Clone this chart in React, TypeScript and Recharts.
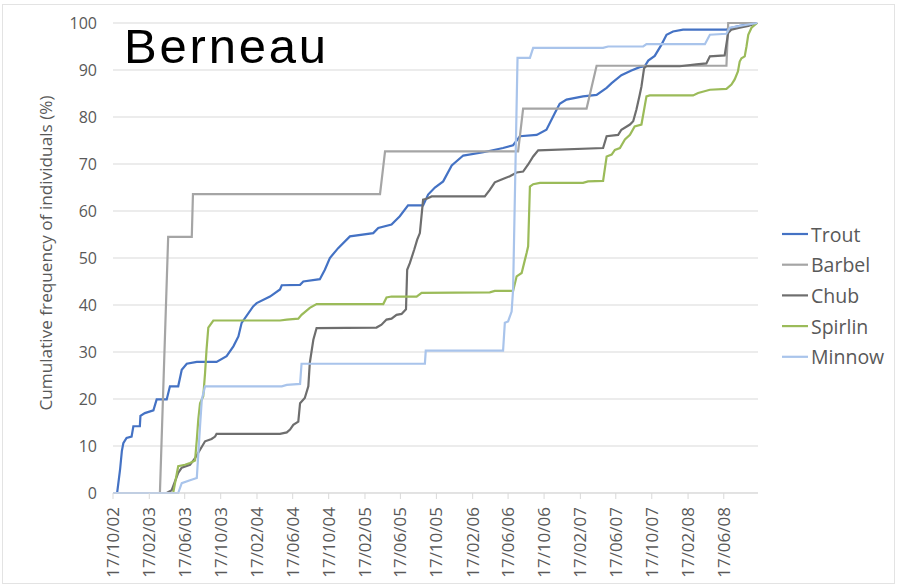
import React from "react";
import { LineChart, Line, XAxis, YAxis, CartesianGrid } from "recharts";

type Pt = [number, number];

// [days after 17/10/2002, cumulative frequency %]
const trout: Pt[] = [
  [0, 0], [14, 0], [24, 5], [30, 8.9], [35, 10.6], [46, 11.7], [63, 12], [69, 14.2], [91, 14.2],
  [93, 16.4], [108, 17], [137, 17.6], [148, 19.9], [182, 19.9], [193, 22.7], [221, 22.7],
  [233, 26.2], [250, 27.5], [284, 27.9], [351, 27.9], [385, 29.1], [408, 31.2], [425, 33.3],
  [436, 36.2], [475, 39.7], [487, 40.4], [532, 41.8], [566, 43.3], [572, 44.2], [634, 44.3],
  [645, 45], [701, 45.5], [718, 47.5], [735, 50], [763, 52.1], [803, 54.6], [882, 55.3],
  [899, 56.4], [944, 57.1], [972, 58.9], [1000, 61.2], [1051, 61.2], [1068, 63.5], [1091, 65],
  [1119, 66.3], [1148, 69.7], [1187, 71.8], [1255, 72.5], [1322, 73.4], [1356, 74], [1379, 75.9],
  [1436, 76.2], [1469, 77.3], [1498, 80.9], [1514, 82.8], [1537, 83.7], [1593, 84.4], [1639, 84.7],
  [1673, 86.2], [1690, 87.2], [1723, 88.9], [1757, 89.9], [1785, 90.6], [1802, 90.8], [1814, 92],
  [1836, 93], [1859, 95.4], [1876, 97.5], [1898, 98.2], [1932, 98.6], [2079, 98.6], [2096, 99],
  [2124, 99.4], [2183, 100],
];

const barbel: Pt[] = [
  [0, 0], [159, 0], [187, 54.5], [267, 54.5], [271, 63.6], [905, 63.6], [922, 72.7], [1373, 72.7],
  [1390, 81.8], [1605, 81.8], [1639, 90.9], [2079, 90.9], [2085, 100], [2183, 100],
];

const chub: Pt[] = [
  [0, 0], [182, 0], [199, 0.6], [221, 4.3], [233, 5.4], [261, 6], [278, 7.4], [295, 9.2], [312, 11],
  [334, 11.5], [346, 12], [351, 12.6], [566, 12.6], [589, 12.9], [600, 13.5], [611, 14.5],
  [628, 15.2], [634, 19.1], [650, 20.2], [662, 22.7], [667, 27.7], [679, 32.6], [690, 35.1],
  [893, 35.2], [910, 35.8], [927, 36.9], [944, 37.1], [961, 37.9], [978, 38.1], [993, 39.1],
  [997, 47.5], [1006, 48.9], [1021, 51.8], [1031, 53.9], [1040, 55.3], [1051, 62.4], [1063, 62.6],
  [1080, 63.1], [1260, 63.1], [1277, 64.5], [1294, 66.1], [1317, 66.7], [1345, 67.4], [1368, 68.2],
  [1390, 68.4], [1407, 69.9], [1424, 71.6], [1441, 72.9], [1661, 73.4], [1673, 75.9], [1712, 76.2],
  [1723, 77.3], [1752, 78.4], [1763, 79.1], [1774, 81.6], [1785, 84.7], [1791, 86.5], [1800, 90.4],
  [1808, 90.8], [1921, 90.8], [1977, 91.2], [2011, 91.4], [2023, 92.9], [2073, 93.1], [2085, 97.9],
  [2096, 98.6], [2124, 99], [2153, 99.4], [2183, 100],
];

const spirlin: Pt[] = [
  [0, 0], [204, 0], [221, 5.7], [244, 6], [261, 6.4], [278, 6.9], [284, 11.3], [289, 15.6],
  [295, 19.1], [306, 20.6], [312, 25.5], [317, 30.5], [323, 35.2], [340, 36.7], [566, 36.7],
  [589, 36.9], [628, 37.1], [639, 37.9], [667, 39.4], [690, 40.2], [916, 40.2], [927, 41.6],
  [944, 41.8], [1029, 41.8], [1046, 42.6], [1277, 42.7], [1294, 43], [1356, 43], [1368, 46.1],
  [1385, 46.8], [1396, 49.6], [1402, 51.1], [1407, 52.5], [1413, 65.2], [1424, 65.7], [1447, 66],
  [1593, 66], [1610, 66.3], [1661, 66.4], [1673, 71.6], [1690, 72], [1701, 73], [1718, 73.4],
  [1735, 75.2], [1752, 76.2], [1768, 78], [1791, 78.4], [1802, 82.3], [1808, 84.4], [1819, 84.6],
  [1966, 84.6], [1983, 85.1], [2023, 85.8], [2079, 86], [2096, 86.9], [2107, 88], [2118, 89.7],
  [2124, 91.8], [2130, 92.5], [2141, 92.9], [2147, 95], [2153, 97.5], [2164, 99], [2183, 100],
];

const minnow: Pt[] = [
  [0, 0], [221, 0], [233, 2.1], [261, 2.7], [284, 3.2], [295, 14.2], [301, 19.9], [312, 22.7],
  [572, 22.7], [589, 23], [634, 23.2], [639, 27.5], [1057, 27.5], [1060, 30.3], [1322, 30.3],
  [1328, 36.2], [1339, 36.5], [1351, 38.6], [1356, 43.3], [1371, 92.6], [1413, 92.6], [1424, 94.7],
  [1661, 94.7], [1678, 95], [1797, 95], [1808, 95.5], [2006, 95.5], [2023, 97.5], [2079, 97.7],
  [2090, 99], [2183, 100],
];

const tickLabels = [
  "17/10/02", "17/02/03", "17/06/03", "17/10/03", "17/02/04", "17/06/04", "17/10/04", "17/02/05",
  "17/06/05", "17/10/05", "17/02/06", "17/06/06", "17/10/06", "17/02/07", "17/06/07", "17/10/07",
  "17/02/08", "17/06/08",
];
const yTicks = [0, 10, 20, 30, 40, 50, 60, 70, 80, 90, 100];

const series = [
  { name: "Trout", color: "#4472C4", points: trout },
  { name: "Barbel", color: "#A5A5A5", points: barbel },
  { name: "Chub", color: "#6E6E6E", points: chub },
  { name: "Spirlin", color: "#9BBB59", points: spirlin },
  { name: "Minnow", color: "#A9C4EB", points: minnow },
];

const DAY = 86400000;
const START = Date.UTC(2002, 9, 17);

function toDay(label: string): number {
  const [d, m, y] = label.split("/").map(Number);
  return Math.round((Date.UTC(2000 + y, m - 1, d) - START) / DAY);
}

const tickDays = tickLabels.map(toDay);

function fmtDay(day: number): string {
  const i = tickDays.indexOf(day);
  return i >= 0 ? tickLabels[i] : "";
}

const FONT = "'Open Sans', sans-serif";
const TEXT = "#595959";

function XTick({ x, y, payload }: any) {
  const yy = y + 6;
  return (
    <text
      x={x}
      y={yy}
      transform={`rotate(-90 ${x} ${yy})`}
      textAnchor="end"
      dy="0.35em"
      fill={TEXT}
      fontSize={17}
      fontFamily={FONT}
    >
      {fmtDay(payload.value)}
    </text>
  );
}

function YLabel() {
  return (
    <text
      x={45}
      y={253}
      transform="rotate(-90 45 253)"
      textAnchor="middle"
      dominantBaseline="central"
      fill={TEXT}
      fontSize={17.2}
      fontFamily={FONT}
    >
      Cumulative frequency of individuals (%)
    </text>
  );
}

export default function App() {
  return (
    <div style={{ position: "relative", width: 897, height: 587, background: "#fff" }}>
      <style>{`body{margin:0}`}</style>
      <LineChart width={897} height={587} margin={{ top: 23, right: 139, left: 0, bottom: 0 }}>
        <CartesianGrid vertical={false} stroke="#D9D9D9" />
        <XAxis
          dataKey="day"
          type="number"
          domain={[0, 2186]}
          ticks={tickDays}
          interval={0}
          allowDataOverflow
          height={94}
          stroke="#D9D9D9"
          tickLine={{ stroke: "#D9D9D9" }}
          tickSize={6}
          tick={<XTick />}
        />
        <YAxis
          type="number"
          domain={[0, 100]}
          ticks={yTicks}
          width={113}
          axisLine={false}
          tickLine={false}
          tickSize={0}
          tickMargin={16}
          tick={{ fill: TEXT, fontSize: 16, fontFamily: FONT }}
          label={{ content: <YLabel /> }}
        />
        {series.map((s) => (
          <Line
            key={s.name}
            data={s.points.map(([day, pct]) => ({ day, pct }))}
            dataKey="pct"
            name={s.name}
            type="linear"
            stroke={s.color}
            strokeWidth={2.2}
            dot={false}
            activeDot={false}
            isAnimationActive={false}
          />
        ))}
      </LineChart>
      <svg
        width={897}
        height={587}
        style={{ position: "absolute", left: 0, top: 0, pointerEvents: "none" }}
      >
        <rect x={2.5} y={4.5} width={892} height={579} fill="none" stroke="#E3E3E3" />
        <text x={124} y={63} fontSize={49} fontFamily="'Liberation Sans', Arial, sans-serif" letterSpacing={2.8} fill="#000">
          Berneau
        </text>
        {series.map((s, i) => {
          const cy = 234 + i * 30.7;
          return (
            <g key={s.name}>
              <line x1={782} x2={808} y1={cy} y2={cy} stroke={s.color} strokeWidth={2.2} />
              <text x={811} y={cy} dominantBaseline="central" fontSize={19.5} fontFamily={FONT} fill={TEXT}>
                {s.name}
              </text>
            </g>
          );
        })}
      </svg>
    </div>
  );
}
